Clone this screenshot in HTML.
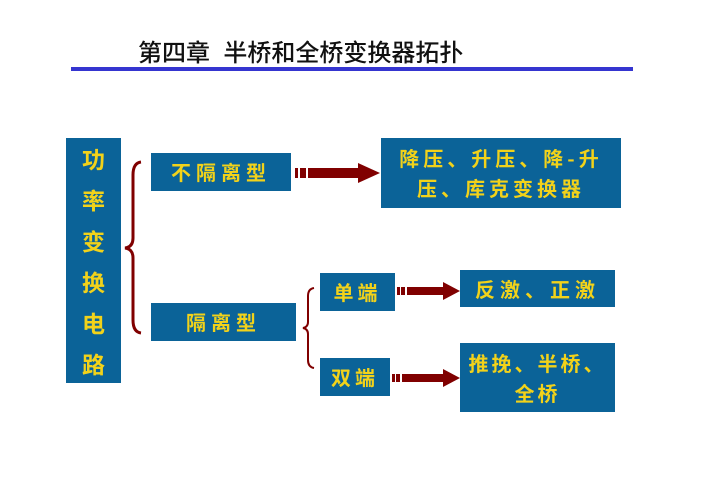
<!DOCTYPE html>
<html><head><meta charset="utf-8"><style>
body{margin:0;width:702px;height:496px;background:#fff;position:relative;overflow:hidden;font-family:"Liberation Sans","Noto Sans CJK SC",sans-serif}
.b{position:absolute;background:#0b6398;color:#f2d21a;font-weight:bold;display:flex;align-items:center;justify-content:center;text-align:center;font-family:"Noto Sans CJK SC",sans-serif;font-size:20px;line-height:30px;letter-spacing:4px;white-space:nowrap}
</style></head><body>
<div style="position:absolute;left:138px;top:33px;font-size:24px;color:#111;font-family:'Liberation Sans','Noto Sans CJK SC',sans-serif;white-space:nowrap;font-weight:500">第四章&nbsp;&nbsp;半桥和全桥变换器拓扑</div>
<div style="position:absolute;left:71px;top:67px;width:562px;height:4px;background:#3535d0"></div>
<div class="b" style="left:66px;top:138px;width:55px;height:245px;font-size:23px;line-height:41px;flex-direction:column;letter-spacing:0">功<br>率<br>变<br>换<br>电<br>路</div>
<div class="b" style="left:151px;top:153px;width:140px;height:38px;letter-spacing:5px">不隔离型</div>
<div class="b" style="left:151px;top:303px;width:145px;height:38px;letter-spacing:5px">隔离型</div>
<div class="b" style="left:381px;top:138px;width:240px;height:70px">降压、升压、降-升<br>压、库克变换器</div>
<div class="b" style="left:320px;top:273px;width:75px;height:38px">单端</div>
<div class="b" style="left:320px;top:358px;width:70px;height:38px">双端</div>
<div class="b" style="left:460px;top:270px;width:155px;height:37px;letter-spacing:5px">反激、正激</div>
<div class="b" style="left:460px;top:343px;width:155px;height:69px;letter-spacing:3px">推挽、半桥、<br>全桥</div>
<svg width="702" height="496" style="position:absolute;left:0;top:0">
<g fill="#800000">
<rect x="295" y="168" width="3" height="10"/><rect x="300" y="168" width="6" height="10"/><rect x="308" y="168" width="52" height="10"/><polygon points="358,163 380,173 358,183"/>
<rect x="397" y="287" width="3" height="8"/><rect x="401" y="287" width="4" height="8"/><rect x="407" y="287" width="38" height="8"/><polygon points="443,282 460,291 443,300"/>
<rect x="392" y="374" width="3" height="8"/><rect x="396" y="374" width="4" height="8"/><rect x="402" y="374" width="43" height="8"/><polygon points="443,369 460,378 443,387"/>
</g>
<g fill="none" stroke="#800000" stroke-width="3">
<path d="M141,162 Q133,163 133,175 L133,238 Q133,247 125,248 Q133,249 133,258 L133,320 Q133,332 141,333"/>
</g>
<g fill="none" stroke="#800000" stroke-width="2">
<path d="M314,288 Q308,289 308,296 L308,322 Q308,327 303,328 Q308,329 308,334 L308,360 Q308,367 314,368"/>
</g>
</svg>
</body></html>
